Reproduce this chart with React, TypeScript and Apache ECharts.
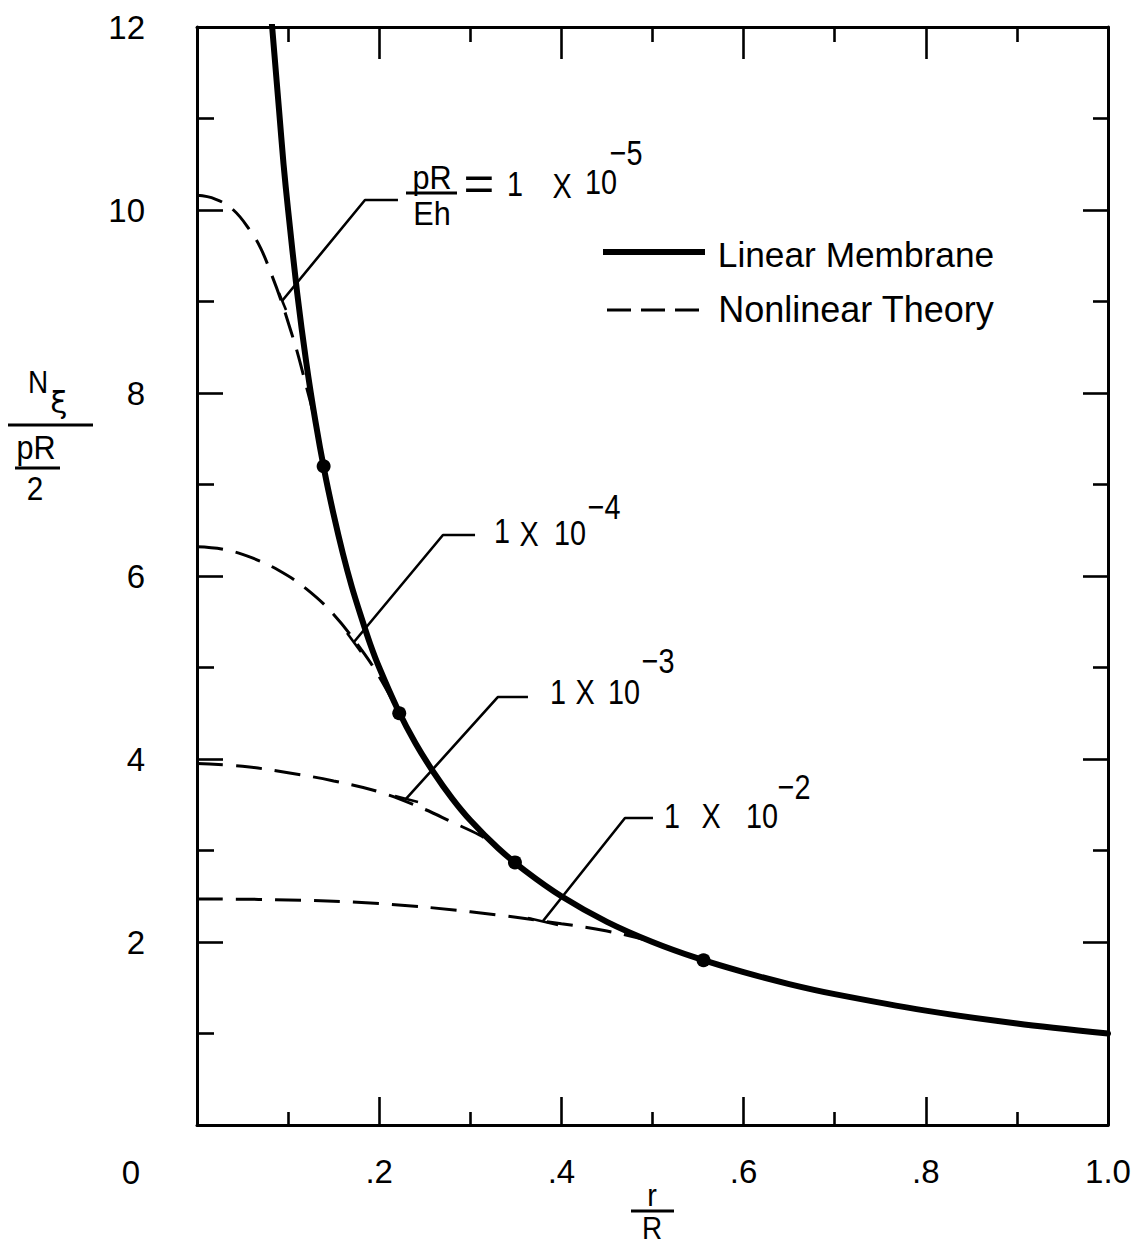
import React, { useEffect, useRef } from "react";
import * as echarts from "echarts";

// ---- data ----
const linearX = [0.08, 0.085, 0.09, 0.095, 0.1, 0.11, 0.12, 0.13, 0.14, 0.15, 0.16, 0.17, 0.18, 0.19, 0.2, 0.22, 0.24, 0.26, 0.28, 0.3, 0.33, 0.36, 0.4, 0.45, 0.5, 0.55, 0.6, 0.65, 0.7, 0.8, 0.9, 1.0];
const linearY = [12.3, 11.7, 11.1, 10.5, 10.0, 9.09, 8.33, 7.69, 7.14, 6.67, 6.25, 5.88, 5.56, 5.26, 5.0, 4.55, 4.17, 3.85, 3.57, 3.33, 3.03, 2.78, 2.5, 2.22, 2.0, 1.82, 1.67, 1.54, 1.43, 1.25, 1.11, 1.0];

const nl5X = [0, 0.02, 0.04, 0.058, 0.07, 0.082, 0.092, 0.102, 0.11, 0.119, 0.127, 0.133];
const nl5Y = [10.16, 10.12, 10.0, 9.78, 9.58, 9.29, 9.02, 8.71, 8.45, 8.11, 7.8, 7.5];

const nl4X = [0, 0.03, 0.06, 0.09, 0.12, 0.15, 0.18, 0.2, 0.222];
const nl4Y = [6.32, 6.29, 6.2, 6.06, 5.86, 5.58, 5.2, 4.9, 4.5];

const nl3X = [0, 0.05, 0.1, 0.15, 0.2, 0.25, 0.28, 0.31, 0.325];
const nl3Y = [3.95, 3.92, 3.85, 3.76, 3.64, 3.45, 3.31, 3.17, 3.08];

const nl2X = [0, 0.1, 0.2, 0.3, 0.4, 0.45, 0.5, 0.523];
const nl2Y = [2.47, 2.46, 2.42, 2.33, 2.2, 2.12, 2.0, 1.91];

const dotX = [0.139, 0.222, 0.349, 0.556];
const dotY = [7.2, 4.5, 2.87, 1.8];

// leader lines (data coords) and their end bars
const leader5 = [[0.0933, 9.005], [0.1844, 10.109], [0.2206, 10.109]];
const bar5 = [[0.09, 9.093], [0.0977, 8.907]];
const leader4 = [[0.1723, 5.279], [0.27, 6.448], [0.3052, 6.448]];
const bar4 = [[0.1647, 5.377], [0.18, 5.169]];
const leader3 = [[0.2294, 3.563], [0.3304, 4.678], [0.3633, 4.678]];
const bar3 = [[0.2173, 3.596], [0.2426, 3.53]];
const leader2 = [[0.3798, 2.23], [0.4698, 3.355], [0.5005, 3.355]];
const bar2 = [[0.3633, 2.262], [0.3963, 2.186]];

const xTickLabels: Record<string, string> = { "0.2": ".2", "0.4": ".4", "0.6": ".6", "0.8": ".8", "1": "1.0" };
const yTickLabels = ["2", "4", "6", "8", "10", "12"];

const SANS = '"Liberation Sans", Arial, sans-serif';

const zip = (xs: number[], ys: number[]) => xs.map((x, i) => [x, ys[i]]);

function txt(text: string, x: number, y: number, size: number, sx = 1, family = SANS) {
  return {
    type: "text",
    x,
    y,
    scaleX: sx,
    style: {
      text,
      font: `${size}px ${family}`,
      fill: "#000",
      align: "center",
      verticalAlign: "middle",
      textAlign: "center",
      textVerticalAlign: "middle",
    },
    silent: true,
  };
}
function ln(x1: number, y1: number, x2: number, y2: number, w = 3, dash?: number[]) {
  return {
    type: "line",
    shape: { x1, y1, x2, y2 },
    style: { stroke: "#000", lineWidth: w, lineDash: dash },
    silent: true,
  };
}

const dashedStyle = { color: "#000", width: 3, type: [26, 13] as any };
const thinLine = (data: number[][]) => ({
  type: "line",
  data,
  symbol: "none",
  silent: true,
  lineStyle: { color: "#000", width: 2.6 },
  z: 1,
});

export default function App() {
  const ref = useRef<HTMLDivElement>(null);
  useEffect(() => {
    const chart = echarts.init(ref.current!, null, { renderer: "svg" });
    const axisLine = { show: true, onZero: false, lineStyle: { color: "#000", width: 3 } };
    const tickStyle = { color: "#000", width: 2.6 };
    const option: any = {
      animation: false,
      backgroundColor: "#fff",
      grid: { left: 197, top: 27, right: 30, bottom: 122, containLabel: false },
      xAxis: [
        {
          type: "value",
          position: "bottom",
          min: 0,
          max: 1,
          interval: 0.2,
          axisLine,
          axisTick: { show: true, inside: true, length: 28, lineStyle: tickStyle },
          minorTick: { show: true, splitNumber: 2, length: 13, lineStyle: tickStyle },
          splitLine: { show: false },
          axisLabel: {
            margin: 30,
            fontSize: 33,
            fontFamily: SANS,
            color: "#000",
            formatter: (v: number) => xTickLabels[String(Math.round(v * 10) / 10)] || "",
          },
        },
        {
          type: "value",
          position: "top",
          min: 0,
          max: 1,
          interval: 0.2,
          axisLine,
          axisTick: { show: true, inside: true, length: 32, lineStyle: tickStyle },
          minorTick: { show: true, splitNumber: 2, length: 15, lineStyle: tickStyle },
          splitLine: { show: false },
          axisLabel: { show: false },
        },
      ],
      yAxis: [
        {
          type: "value",
          position: "left",
          min: 0,
          max: 12,
          interval: 2,
          axisLine,
          axisTick: { show: true, inside: true, length: 26, lineStyle: tickStyle },
          minorTick: { show: true, splitNumber: 2, length: 17, lineStyle: tickStyle },
          splitLine: { show: false },
          axisLabel: {
            margin: 52,
            fontSize: 33,
            fontFamily: SANS,
            color: "#000",
            formatter: (v: number) => (yTickLabels.includes(String(v)) ? String(v) : ""),
          },
        },
        {
          type: "value",
          position: "right",
          min: 0,
          max: 12,
          interval: 2,
          axisLine,
          axisTick: { show: true, inside: true, length: 25, lineStyle: tickStyle },
          minorTick: { show: true, splitNumber: 2, length: 15, lineStyle: tickStyle },
          splitLine: { show: false },
          axisLabel: { show: false },
        },
      ],
      series: [
        { name: "1e-5", type: "line", data: zip(nl5X, nl5Y), smooth: 0.4, symbol: "none", lineStyle: dashedStyle, z: 2 },
        { name: "1e-4", type: "line", data: zip(nl4X, nl4Y), smooth: 0.4, symbol: "none", lineStyle: dashedStyle, z: 2 },
        { name: "1e-3", type: "line", data: zip(nl3X, nl3Y), smooth: 0.4, symbol: "none", lineStyle: dashedStyle, z: 2 },
        { name: "1e-2", type: "line", data: zip(nl2X, nl2Y), smooth: 0.4, symbol: "none", lineStyle: dashedStyle, z: 2 },
        thinLine(leader5),
        thinLine(bar5),
        thinLine(leader4),
        thinLine(bar4),
        thinLine(leader3),
        thinLine(bar3),
        thinLine(leader2),
        thinLine(bar2),
        {
          name: "Linear Membrane",
          type: "line",
          data: zip(linearX, linearY),
          smooth: 0.3,
          symbol: "none",
          clip: true,
          lineStyle: { color: "#000", width: 6, cap: "round" },
          z: 3,
        },
        {
          type: "scatter",
          data: zip(dotX, dotY),
          symbol: "circle",
          symbolSize: 14,
          itemStyle: { color: "#000", opacity: 1 },
          z: 4,
        },
      ],
      graphic: [
        // origin label
        txt("0", 131, 1172, 33),
        // y axis title  N_xi / (pR/2)
        txt("N", 38, 382, 31, 0.9),
        txt("ξ", 59, 402, 31, 1, '"DejaVu Sans", sans-serif'),
        ln(8, 425, 93, 425, 3),
        txt("pR", 36, 447, 34, 0.9),
        ln(15, 468, 60, 468, 3),
        txt("2", 35, 489, 33, 0.9),
        // x axis title r/R
        txt("r", 652, 1194, 32, 0.9),
        ln(631, 1211, 674, 1211, 3),
        txt("R", 652, 1228, 31, 0.9),
        // legend
        ln(603, 252, 705, 252, 6),
        txt("Linear Membrane", 856, 255, 36, 0.98),
        ln(607, 310, 700, 310, 3, [24, 10]),
        txt("Nonlinear Theory", 856, 309, 36, 1.0),
        // label 1e-5
        txt("pR", 432, 177, 34, 0.9),
        ln(406, 193, 457, 193, 3),
        txt("Eh", 432, 213, 34, 0.9),
        txt("=", 479, 183, 48, 1.1),
        txt("1", 515, 183, 36, 0.8),
        txt("X", 562, 185, 36, 0.8),
        txt("10", 601, 181, 36, 0.8),
        txt("−5", 626, 152, 36, 0.8),
        // label 1e-4
        txt("1", 502, 530, 36, 0.8),
        txt("X", 529, 533, 36, 0.8),
        txt("10", 570, 532, 36, 0.8),
        txt("−4", 604, 506, 36, 0.8),
        // label 1e-3
        txt("1", 558, 691, 36, 0.8),
        txt("X", 585, 691, 36, 0.8),
        txt("10", 624, 691, 36, 0.8),
        txt("−3", 658, 660, 36, 0.8),
        // label 1e-2
        txt("1", 672, 815, 36, 0.8),
        txt("X", 711, 815, 36, 0.8),
        txt("10", 762, 815, 36, 0.8),
        txt("−2", 794, 786, 36, 0.8),
      ],
    };
    chart.setOption(option);
    return () => chart.dispose();
  }, []);
  return (
    <div
      ref={ref}
      style={{ position: "fixed", left: 0, top: 0, width: 1138, height: 1247, background: "#fff" }}
    />
  );
}
